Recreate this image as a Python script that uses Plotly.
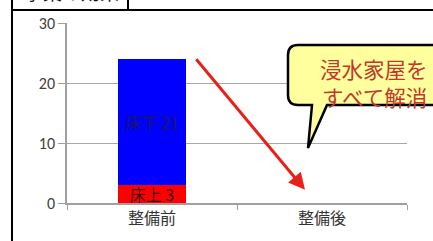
import plotly.graph_objects as go

categories = ["整備前", "整備後"]
yuka_ue = [3, 0]          # 床上
yuka_shita = [21, 0]      # 床下
label_ue = ["床上 3", ""]
label_shita = ["床下 21", ""]
y_ticks = [0, 10, 20, 30]
callout_lines = ["浸水家屋を", "すべて解消"]
tab_text = "事業の効果"

W, H = 433, 241
L, R, T, B = 67, 26, 23, 38

def px(xp, yp):
    return (xp - L) / (W - L - R), (H - B - yp) / (H - T - B)

def path_from(points):
    parts = []
    for cmd, *pts in points:
        coords = []
        for (a, b) in pts:
            x, y = px(a, b)
            coords.append(f"{x:.4f},{y:.4f}")
        parts.append(cmd + " " + " ".join(coords))
    return " ".join(parts) + " Z"

cjk = "Noto Sans CJK JP"
fig = go.Figure()
fig.add_trace(go.Bar(x=categories, y=yuka_ue, marker_color="#FF0000", marker_line_width=0,
                     text=label_ue, textposition="inside", insidetextanchor="middle", textangle=0,
                     textfont=dict(size=16, color="#3a1010", family=cjk), constraintext="none",
                     width=0.4, showlegend=False))
fig.add_trace(go.Bar(x=categories, y=yuka_shita, marker_color="#0000FF", marker_line_width=0,
                     text=label_shita, textposition="inside", insidetextanchor="middle", textangle=0,
                     textfont=dict(size=16, color="#1a1a50", family=cjk), constraintext="none",
                     width=0.4, showlegend=False))

shapes = []
# outer frame lines
x0, y0 = px(11, 10); x1, _ = px(433, 10)
shapes.append(dict(type="line", xref="paper", yref="paper", x0=x0, x1=x1, y0=y0, y1=y0,
                   line=dict(color="black", width=2)))
xl, yb = px(12, 241); _, yt = px(12, 0)
shapes.append(dict(type="line", xref="paper", yref="paper", x0=xl, x1=xl, y0=yb, y1=yt,
                   line=dict(color="black", width=2)))
xr, _ = px(128, 0)
shapes.append(dict(type="line", xref="paper", yref="paper", x0=xr, x1=xr, y0=y0, y1=yt,
                   line=dict(color="black", width=2)))

# speech bubble
r = 10
bl, br, bt, bb = 288, 450, 45, 105
bubble = path_from([
    ("M", (bl + r, bt)),
    ("L", (br, bt)),
    ("L", (br, bb)),
    ("L", (327, bb)),
    ("L", (308, 148)),
    ("L", (312, bb)),
    ("L", (bl + r, bb)),
    ("Q", (bl, bb), (bl, bb - r)),
    ("L", (bl, bt + r)),
    ("Q", (bl, bt), (bl + r, bt)),
])
shapes.append(dict(type="path", xref="paper", yref="paper", path=bubble,
                   fillcolor="#FFFF9E", line=dict(color="black", width=2.5), layer="above"))

annotations = []
for line, ypix in zip(callout_lines, [68, 96]):
    cx, cy = px(374, ypix)
    annotations.append(dict(xref="paper", yref="paper", x=cx, y=cy, text=line, showarrow=False,
                            xanchor="center", yanchor="middle",
                            font=dict(size=21.5, color="#C0392B", family=cjk)))
tx, ty = px(22, 7)
annotations.append(dict(xref="paper", yref="paper", x=tx, y=ty, text=tab_text, showarrow=False,
                        xanchor="left", yanchor="bottom",
                        font=dict(size=19, color="#111", family=cjk)))
# red arrow from the bar top towards the second category
annotations.append(dict(xref="x", yref="y", axref="x", ayref="y",
                        x=0.9, y=2.2, ax=0.253, ay=yuka_ue[0] + yuka_shita[0] + 0.2,
                        text="", showarrow=True, arrowhead=2, arrowsize=1.1, arrowwidth=3,
                        arrowcolor="#E8201A"))

fig.update_layout(
    width=W, height=H, margin=dict(l=L, r=R, t=T, b=B, autoexpand=False),
    barmode="stack", plot_bgcolor="white", paper_bgcolor="white",
    shapes=shapes, annotations=annotations,
    font=dict(family="Carlito, Liberation Sans, " + cjk, color="#404040"),
)
fig.update_xaxes(range=[-0.5, 1.5], showline=True, linecolor="#A0A0A0", linewidth=1.5,
                 ticks="outside", tickson="boundaries", ticklen=5, tickcolor="#A0A0A0",
                 tickfont=dict(size=16, family=cjk, color="#333"), showgrid=False, automargin=False)
fig.update_yaxes(range=[0, 30], tickvals=y_ticks, showline=True, linecolor="#A0A0A0", linewidth=1.5,
                 ticks="outside", ticklen=7, tickcolor="#A0A0A0", gridcolor="#A8A8A8", gridwidth=1.2,
                 zeroline=False, tickfont=dict(size=16, color="#404040"), automargin=False)

fig.write_html("out.html", config={"displayModeBar": False},
               post_script="document.body.style.margin='0';document.body.style.overflow='hidden';")
